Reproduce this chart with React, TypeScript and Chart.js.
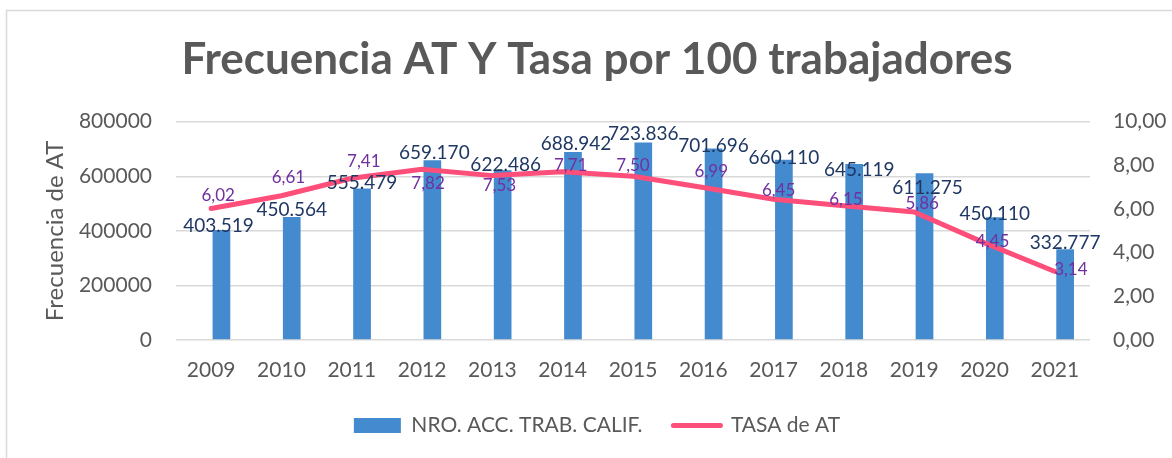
import React, { useEffect, useRef } from 'react';
import { Chart, registerables } from 'chart.js';

Chart.register(...registerables);

// ---------- data ----------
const categories = ['2009', '2010', '2011', '2012', '2013', '2014', '2015', '2016', '2017', '2018', '2019', '2020', '2021'];
const accidents = [403519, 450564, 555479, 659170, 622486, 688942, 723836, 701696, 660110, 645119, 611275, 450110, 332777];
const rate = [6.02, 6.61, 7.41, 7.82, 7.53, 7.71, 7.5, 6.99, 6.45, 6.15, 5.86, 4.45, 3.14];
const leftTicks = [0, 200000, 400000, 600000, 800000];
const rightTicks = [0, 2, 4, 6, 8, 10];

const titleText = 'Frecuencia AT Y Tasa por 100 trabajadores';
const leftAxisTitle = 'Frecuencia de AT';
const barSeriesName = 'NRO. ACC. TRAB. CALIF.';
const lineSeriesName = 'TASA de AT';

// ---------- style ----------
const FONT = 'Lato';
const GREY = '#595959';
const BAR_COLOR = '#448ace';
const LINE_COLOR = '#fd4f7a';
const BAR_LABEL_COLOR = '#1f3763';
const LINE_LABEL_COLOR = '#7030a0';
// per-label nudges (px) relative to the mark, as placed in the original chart
const barLabelNudgeX = [-3, 0, 0, 2, 3, 3, 0, 0, 0, 5, 3, 0, 0];
const barLabelNudgeY = [-5, -8, -6, -8, -6, -9, -9, -3, -3, 5, 14, -4, -7];
const lineLabelNudgeX = [7, 7, 12, 6, 7, 8, 0, 8, 5, 2, 8, 8, 16];
const lineLabelNudgeY = [-14, -19, -17, 14, 9, -7, -11, -16, -9, -7, -9, -2, -3];

const fmtThousands = (v: number) => String(v).replace(/\B(?=(\d{3})+(?!\d))/g, '.');
const fmtRate = (v: number) => v.toFixed(2).replace('.', ',');

const framePlugin = {
  id: 'frame',
  beforeDraw(chart: any) {
    const ctx = chart.ctx;
    ctx.save();
    ctx.fillStyle = '#ffffff';
    ctx.fillRect(0, 0, chart.width, chart.height);
    ctx.strokeStyle = '#d9d9d9';
    ctx.lineWidth = 1.5;
    ctx.strokeRect(6.5, 10.5, chart.width + 40, chart.height + 40);
    ctx.restore();
  },
};

const labelPlugin = {
  id: 'valueLabels',
  afterDatasetsDraw(chart: any) {
    const ctx = chart.ctx;
    ctx.save();
    ctx.textAlign = 'center';
    ctx.textBaseline = 'alphabetic';
    const barMeta = chart.getDatasetMeta(1);
    const barSize = 19;
    ctx.font = `${barSize}px ${FONT}`;
    ctx.fillStyle = BAR_LABEL_COLOR;
    barMeta.data.forEach((el: any, i: number) => {
      const v = chart.data.datasets[1].data[i];
      ctx.fillText(fmtThousands(v), el.x + barLabelNudgeX[i], el.y + barLabelNudgeY[i] + 0.358 * barSize);
    });
    const lineMeta = chart.getDatasetMeta(2);
    const lineSize = 17;
    ctx.font = `${lineSize}px ${FONT}`;
    ctx.fillStyle = LINE_LABEL_COLOR;
    lineMeta.data.forEach((el: any, i: number) => {
      const v = chart.data.datasets[2].data[i];
      ctx.fillText(fmtRate(v), el.x + lineLabelNudgeX[i], el.y + lineLabelNudgeY[i] + 0.358 * lineSize);
    });
    ctx.restore();
  },
};

export default function App() {
  const canvasRef = useRef<HTMLCanvasElement | null>(null);

  useEffect(() => {
    document.body.style.margin = '0';
    document.body.style.overflow = 'hidden';
    const canvas = canvasRef.current;
    if (!canvas) return;
    const chart = new Chart(canvas, {
      type: 'bar',
      data: {
        labels: categories,
        datasets: [
          {
            type: 'bar',
            label: '',
            data: categories.map(() => null),
            backgroundColor: 'rgba(0,0,0,0)',
            yAxisID: 'y',
            order: 2,
          } as any,
          {
            type: 'bar',
            label: barSeriesName,
            data: accidents,
            backgroundColor: BAR_COLOR,
            borderWidth: 0,
            yAxisID: 'y',
            order: 2,
          } as any,
          {
            type: 'line',
            label: lineSeriesName,
            data: rate,
            borderColor: LINE_COLOR,
            backgroundColor: LINE_COLOR,
            borderWidth: 5,
            borderCapStyle: 'round',
            borderJoinStyle: 'round',
            pointRadius: 0,
            tension: 0,
            yAxisID: 'y1',
            order: 1,
          } as any,
        ],
      },
      options: {
        responsive: false,
        animation: false,
        devicePixelRatio: 1,
        layout: { padding: { left: 22, right: 0, top: 0, bottom: 12 } },
        datasets: { bar: { categoryPercentage: 0.585, barPercentage: 0.86 } } as any,
        plugins: {
          tooltip: { enabled: false },
          title: {
            display: true,
            text: titleText,
            color: GREY,
            font: { family: FONT, size: 44, weight: 'bold' },
            padding: { top: 33, bottom: 35.9 },
          },
          legend: {
            position: 'bottom',
            labels: {
              color: GREY,
              font: { family: FONT, size: 21 },
              usePointStyle: true,
              pointStyleWidth: 47,
              boxHeight: 15,
              padding: 31,
              generateLabels: () => [
                {
                  text: barSeriesName,
                  fillStyle: BAR_COLOR,
                  strokeStyle: BAR_COLOR,
                  lineWidth: 0,
                  pointStyle: 'rect',
                  datasetIndex: 1,
                  fontColor: GREY,
                } as any,
                {
                  text: lineSeriesName,
                  fillStyle: LINE_COLOR,
                  strokeStyle: LINE_COLOR,
                  lineWidth: 5,
                  lineCap: 'round',
                  pointStyle: 'line',
                  datasetIndex: 2,
                  fontColor: GREY,
                } as any,
              ],
            },
          },
        },
        scales: {
          x: {
            grid: { display: false, drawTicks: false },
            border: { display: false },
            ticks: { color: GREY, font: { family: FONT, size: 21 }, padding: 18, maxRotation: 0, autoSkip: false },
            afterFit: (s: any) => { s.height = 44; },
          },
          y: {
            position: 'left',
            min: leftTicks[0],
            max: leftTicks[leftTicks.length - 1],
            afterBuildTicks: (s: any) => { s.ticks = leftTicks.map((v) => ({ value: v })); },
            grid: { color: '#d9d9d9', lineWidth: 1.5, drawTicks: false },
            border: { display: false },
            ticks: {
              color: GREY,
              font: { family: FONT, size: 21 },
              padding: 24,
              callback: (v: any) => String(v),
            },
            title: {
              display: true,
              text: leftAxisTitle,
              color: GREY,
              font: { family: FONT, size: 24 },
              padding: { top: 18.6, bottom: 0 },
            },
            afterFit: (s: any) => { s.width = 154; },
          },
          y1: {
            position: 'right',
            min: rightTicks[0],
            max: rightTicks[rightTicks.length - 1],
            afterBuildTicks: (s: any) => { s.ticks = rightTicks.map((v) => ({ value: v })); },
            grid: { display: false, drawTicks: false },
            border: { display: false },
            ticks: {
              color: GREY,
              font: { family: FONT, size: 21 },
              padding: 23,
              callback: (v: any) => fmtRate(Number(v)),
            },
            afterFit: (s: any) => { s.width = 82; },
          },
        },
      },
      plugins: [framePlugin, labelPlugin],
    });
    return () => chart.destroy();
  }, []);

  return (
    <canvas ref={canvasRef} width={1172} height={458} style={{ display: 'block', width: 1172, height: 458 }} />
  );
}
